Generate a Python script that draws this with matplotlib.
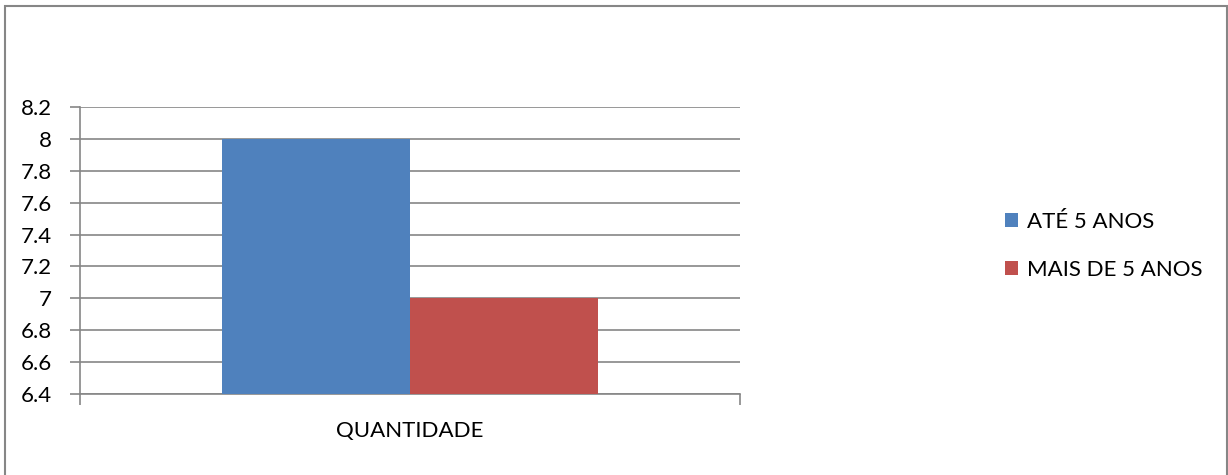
import matplotlib.pyplot as plt
from matplotlib.patches import Rectangle

categories = ["QUANTIDADE"]
series_names = ["ATÉ 5 ANOS", "MAIS DE 5 ANOS"]
series_values = [[8], [7]]
colors = ["#4F81BD", "#C0504D"]
yticks = [6.4, 6.6, 6.8, 7.0, 7.2, 7.4, 7.6, 7.8, 8.0, 8.2]
ytick_labels = ["6.4", "6.6", "6.8", "7", "7.2", "7.4", "7.6", "7.8", "8", "8.2"]

plt.rcParams['font.family'] = ['Lato', 'DejaVu Sans']
W, H = 1228, 475
fig = plt.figure(figsize=(W / 100, H / 100), dpi=100)

# chart area border
fig.patches.append(Rectangle((4.5 / W, -0.05), (1227 - 4.5) / W, 1 - 6 / H + 0.05,
                             transform=fig.transFigure, fill=False,
                             edgecolor="#868686", linewidth=1.5))

ax = fig.add_axes([80 / W, 1 - 394 / H, 660 / W, (394 - 107) / H])
grid_c = "#868686"
fs = 16
bw = 188 / 660
offsets = [-bw / 2, bw / 2]
for name, vals, c, off in zip(series_names, series_values, colors, offsets):
    ax.bar([i + off for i in range(len(categories))], vals, width=bw,
           color=c, label=name, zorder=3)

ax.set_xlim(-0.5, 0.5)
ax.set_ylim(6.4, 8.2)
ax.set_yticks(yticks)
ax.set_yticklabels(ytick_labels, fontsize=fs)
ax.yaxis.grid(True, color=grid_c, linewidth=1.2, zorder=0)
ax.set_xticks([-0.5, 0.5])
ax.set_xticklabels(["", ""])
ax.tick_params(axis='x', length=8, color=grid_c, width=1.2)
ax.tick_params(axis='y', length=7, color=grid_c, width=1.2, pad=13)
ax.text(0.5, -0.13, categories[0], transform=ax.transAxes, fontsize=fs,
        ha='center', va='center')
for s in ['top', 'right']:
    ax.spines[s].set_visible(False)
for s in ['left', 'bottom']:
    ax.spines[s].set_color(grid_c)
    ax.spines[s].set_linewidth(1.2)

fig.legend(loc='upper left', bbox_to_anchor=(985 / W, 1 - 192 / H),
           frameon=False, fontsize=fs, handlelength=0.6, handleheight=0.6,
           handletextpad=0.4, labelspacing=1.25)

fig.savefig("out.png", dpi=100)
